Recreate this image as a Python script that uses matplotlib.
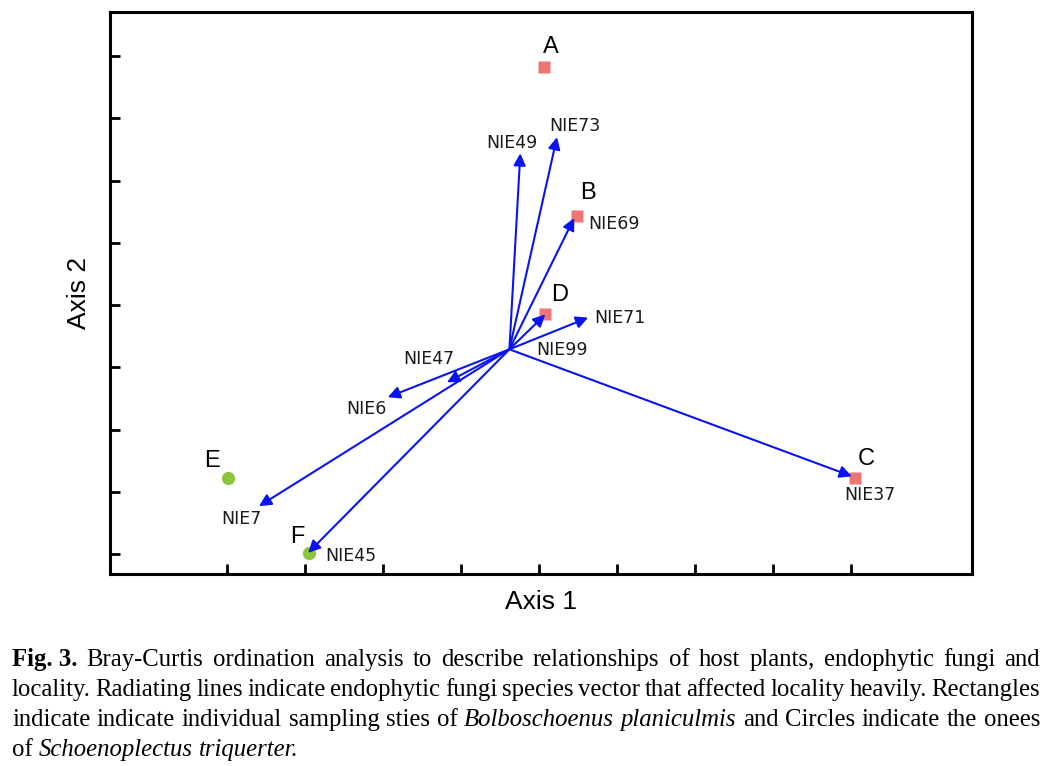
import matplotlib.pyplot as plt
import numpy as np

# sites (pixel-read positions in ordination space)
site_names = ['A', 'B', 'C', 'D', 'E', 'F']
site_x = [4.06, 4.49, 8.05, 4.08, 0.01, 1.05]
site_y = [7.82, 5.43, 1.22, 3.86, 1.22, 0.02]
site_kind = ['rect', 'rect', 'rect', 'rect', 'circle', 'circle']
site_lab_x = [4.15, 4.63, 8.19, 4.27, -0.19, 0.90]
site_lab_y = [8.15, 5.80, 1.53, 4.16, 1.49, 0.27]

# fungi vectors
origin = (3.62, 3.29)
vec_x = [3.76, 4.23, 4.45, 4.08, 4.63, 2.82, 2.06, 0.41, 1.04, 8.01]
vec_y = [6.44, 6.70, 5.40, 3.85, 3.80, 2.76, 2.52, 0.77, 0.02, 1.25]
vec_lab_x = [3.65, 4.46, 4.96, 4.29, 5.04, 2.59, 1.79, 0.18, 1.59, 8.24]
vec_lab_y = [6.60, 6.88, 5.30, 3.28, 3.79, 3.13, 2.33, 0.56, -0.03, 0.95]
vec_lab_text = ['NIE49', 'NIE73', 'NIE69', 'NIE99', 'NIE71', 'NIE47', 'NIE6', 'NIE7', 'NIE45', 'NIE37']

fig = plt.figure(figsize=(10.54, 7.66), dpi=100)
fig.set_facecolor('white')
ax = fig.add_axes([110/1054, 1-574/766, 862/1054, 562/766])

for i in range(len(site_names)):
    if site_kind[i] == 'rect':
        ax.plot(site_x[i], site_y[i], 's', color='#ef7474', ms=8.5, mec='none', zorder=2)
    else:
        ax.plot(site_x[i], site_y[i], 'o', color='#8cc63e', ms=9.5, mec='none', zorder=2)
    ax.text(site_lab_x[i], site_lab_y[i], site_names[i], fontsize=17,
            family='Liberation Sans', ha='center', va='center', zorder=4)

for i in range(len(vec_x)):
    ax.annotate('', xy=(vec_x[i], vec_y[i]), xytext=origin,
                arrowprops=dict(arrowstyle='-|>', color='#0a14f0', lw=1.5,
                                mutation_scale=18, shrinkA=0, shrinkB=0),
                zorder=3)
    ax.text(vec_lab_x[i], vec_lab_y[i], vec_lab_text[i], fontsize=12.5,
            ha='center', va='center', color='#1a1a1a', zorder=4)

ax.set_xlim(-1.5, 9.55)
ax.set_ylim(-0.32, 8.71)
ax.set_xticks(np.arange(0, 9))
ax.set_yticks(np.arange(0, 9))
ax.set_xticklabels([])
ax.set_yticklabels([])
ax.tick_params(direction='in', length=7, width=2, top=False, right=False)
for s in ax.spines.values():
    s.set_linewidth(2.2)
ax.set_xlabel('Axis 1', fontsize=19, family='Liberation Sans', labelpad=8)
ax.set_ylabel('Axis 2', fontsize=19, family='Liberation Sans', labelpad=10)

# caption, word by word so the lines can be justified
caption = [
    ([('Fig. 3.', 'bold')] + [(w, 'normal') for w in
      'Bray-Curtis ordination analysis to describe relationships of host plants, endophytic fungi and'.split()], True),
    ([(w, 'normal') for w in
      'locality. Radiating lines indicate endophytic fungi species vector that affected locality heavily. Rectangles'.split()], True),
    ([(w, 'normal') for w in 'indicate indicate individual sampling sties of'.split()] +
     [('Bolboschoenus', 'italic'), ('planiculmis', 'italic')] +
     [(w, 'normal') for w in 'and Circles indicate the onees'.split()], True),
    ([('of', 'normal'), ('Schoenoplectus', 'italic'), ('triquerter.', 'italic')], False),
]
cap_left, cap_right = 12, 1040
cap_base = [666, 696, 726, 756]
cap_size = 17.8

renderer = fig.canvas.get_renderer()
t1 = fig.text(0, 0, 'a b', fontsize=cap_size, family='Liberation Serif')
t2 = fig.text(0, 0, 'ab', fontsize=cap_size, family='Liberation Serif')
sp = t1.get_window_extent(renderer).width - t2.get_window_extent(renderer).width
t1.remove()
t2.remove()

for (words, justify), yb in zip(caption, cap_base):
    texts = []
    for w, style in words:
        kw = dict(fontsize=cap_size, family='Liberation Serif', va='baseline', ha='left')
        if style == 'bold':
            kw['weight'] = 'bold'
        if style == 'italic':
            kw['style'] = 'italic'
        texts.append(fig.text(0, 1 - yb/766, w, **kw))
    widths = [t.get_window_extent(renderer).width for t in texts]
    if justify:
        gap = (cap_right - cap_left - sum(widths)) / (len(texts) - 1)
    else:
        gap = sp
    x = cap_left
    for k, t in enumerate(texts):
        t.set_x(x / 1054)
        x += widths[k] + gap

fig.savefig('out.png', dpi=100)
